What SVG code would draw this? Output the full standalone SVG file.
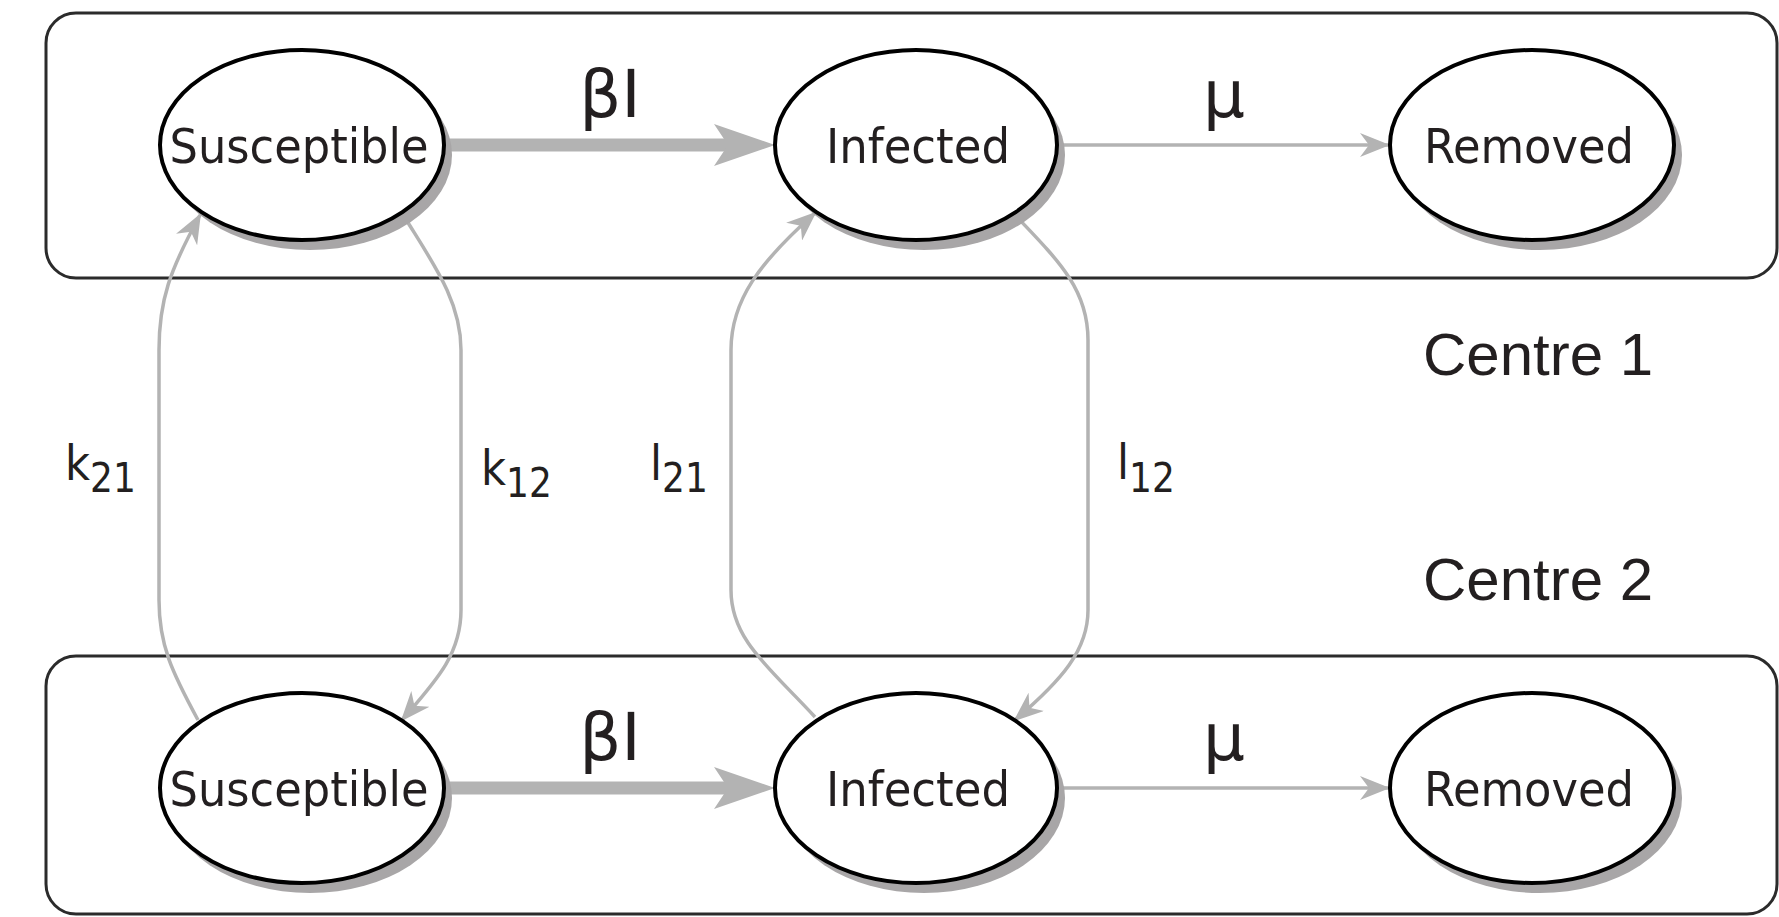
<svg xmlns="http://www.w3.org/2000/svg" width="1779" height="917" viewBox="0 0 1779 917">
  <style>
    .box { fill: none; stroke: #2b2b2b; stroke-width: 3; }
    .shadow { fill: #a8a6a7; }
    .node { fill: #ffffff; stroke: #000000; stroke-width: 4; }
    .ntext { font-family: "DejaVu Sans Condensed", "DejaVu Sans", sans-serif; font-stretch: condensed; font-size: 48px; fill: #231f20; text-anchor: middle; }
    .rate { font-family: "DejaVu Sans", sans-serif; font-size: 66px; fill: #231f20; text-anchor: middle; }
    .lbl { font-family: "DejaVu Sans Condensed", "DejaVu Sans", sans-serif; font-stretch: condensed; font-size: 48px; fill: #231f20; }
    .sub { font-size: 40px; }
    .centre { font-family: "Liberation Sans", Arial, sans-serif; font-size: 60px; fill: #231f20; }
    .thick { fill: none; stroke: #b3b3b3; stroke-width: 13; }
    .thin { fill: none; stroke: #b3b3b3; stroke-width: 3.5; }
  </style>
  <defs>
    <marker id="bigHead" markerUnits="userSpaceOnUse" markerWidth="62" markerHeight="44" refX="26" refY="22" orient="auto" viewBox="0 0 62 44">
      <path d="M0,1 L61,22 L0,43 L14,22 z" fill="#b3b3b3"/>
    </marker>
    <marker id="smallHead" markerUnits="userSpaceOnUse" markerWidth="30" markerHeight="24" refX="28" refY="12" orient="auto" viewBox="0 0 30 24">
      <path d="M0,0 L30,12 L0,24 L9,12 z" fill="#b3b3b3"/>
    </marker>
  </defs>

  <g id="centre1">
    <rect class="box" x="46" y="13" width="1731" height="265" rx="30" ry="30"/>
    <text class="centre" x="1423" y="375">Centre 1</text>
  </g>
  <g id="centre2">
    <rect class="box" x="46" y="656" width="1731" height="258" rx="30" ry="30"/>
    <text class="centre" x="1423" y="600">Centre 2</text>
  </g>

  <g id="connectors">
    <line class="thick" x1="446" y1="145" x2="740" y2="145" marker-end="url(#bigHead)"/>
    <line class="thick" x1="446" y1="788" x2="740" y2="788" marker-end="url(#bigHead)"/>
    <line class="thin" x1="1058" y1="145" x2="1388" y2="145" marker-end="url(#smallHead)"/>
    <line class="thin" x1="1058" y1="788" x2="1388" y2="788" marker-end="url(#smallHead)"/>
    <path class="thin" d="M198,720 C172,672 159,645 159,600 L159,350 C159,300 170,270 200,215" marker-end="url(#smallHead)"/>
    <path class="thin" d="M402,213 C432,262 461,300 461,350 L461,610 C461,655 435,682 402,720" marker-end="url(#smallHead)"/>
    <path class="thin" d="M815,717 C770,668 731,640 731,590 L731,350 C731,300 760,262 815,213" marker-end="url(#smallHead)"/>
    <path class="thin" d="M1015,215 C1060,262 1088,290 1088,340 L1088,610 C1088,650 1062,680 1015,720" marker-end="url(#smallHead)"/>
    <text class="rate" x="610" y="117">βI</text>
    <text class="rate" x="1224" y="117">μ</text>
    <text class="rate" x="610" y="760">βI</text>
    <text class="rate" x="1224" y="760">μ</text>
    <text class="lbl" x="65" y="480">k<tspan class="sub" dy="12">21</tspan></text>
    <text class="lbl" x="481" y="485">k<tspan class="sub" dy="12">12</tspan></text>
    <text class="lbl" x="650" y="480">l<tspan class="sub" dy="12">21</tspan></text>
    <text class="lbl" x="1117" y="479">l<tspan class="sub" dy="13">12</tspan></text>
  </g>

  <g id="susceptible1">
    <ellipse class="shadow" cx="310" cy="155" rx="142" ry="95"/>
    <ellipse class="node" cx="302" cy="145" rx="142" ry="95"/>
    <text class="ntext" x="299" y="163" textLength="259" lengthAdjust="spacingAndGlyphs">Susceptible</text>
  </g>
  <g id="infected1">
    <ellipse class="shadow" cx="924" cy="155" rx="141" ry="95"/>
    <ellipse class="node" cx="916" cy="145" rx="141" ry="95"/>
    <text class="ntext" x="918" y="163" textLength="184" lengthAdjust="spacingAndGlyphs">Infected</text>
  </g>
  <g id="removed1">
    <ellipse class="shadow" cx="1540" cy="155" rx="142" ry="95"/>
    <ellipse class="node" cx="1532" cy="145" rx="142" ry="95"/>
    <text class="ntext" x="1529" y="163" textLength="210" lengthAdjust="spacingAndGlyphs">Removed</text>
  </g>
  <g id="susceptible2">
    <ellipse class="shadow" cx="310" cy="798" rx="142" ry="95"/>
    <ellipse class="node" cx="302" cy="788" rx="142" ry="95"/>
    <text class="ntext" x="299" y="806" textLength="259" lengthAdjust="spacingAndGlyphs">Susceptible</text>
  </g>
  <g id="infected2">
    <ellipse class="shadow" cx="924" cy="798" rx="141" ry="95"/>
    <ellipse class="node" cx="916" cy="788" rx="141" ry="95"/>
    <text class="ntext" x="918" y="806" textLength="184" lengthAdjust="spacingAndGlyphs">Infected</text>
  </g>
  <g id="removed2">
    <ellipse class="shadow" cx="1540" cy="798" rx="142" ry="95"/>
    <ellipse class="node" cx="1532" cy="788" rx="142" ry="95"/>
    <text class="ntext" x="1529" y="806" textLength="210" lengthAdjust="spacingAndGlyphs">Removed</text>
  </g>
</svg>
